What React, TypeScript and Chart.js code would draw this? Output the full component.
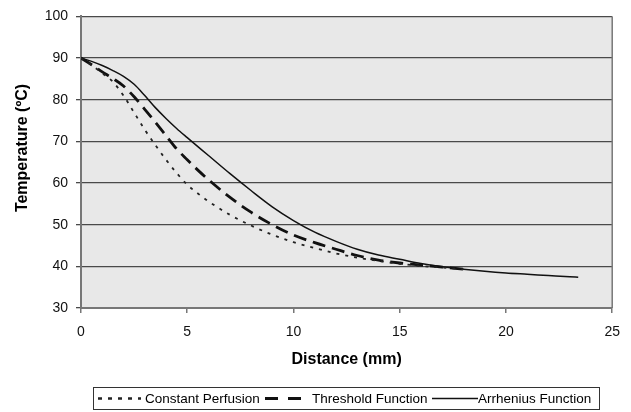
import React, { useEffect, useRef } from "react";
import { Chart, registerables } from "chart.js";

Chart.register(...registerables);

// ---- Data ----
const constantX = [0, 0.5, 1, 1.5, 2, 2.5, 3, 3.5, 4, 4.5, 5, 5.5, 6, 7, 8, 9, 10, 11, 12, 13, 14, 15, 16, 17, 18];
const constantY = [90, 88.3, 86.4, 84.3, 81.0, 76.9, 72.8, 69.1, 65.6, 62.4, 59.6, 57.5, 55.6, 52.4, 49.8, 47.6, 45.8, 44.4, 43.1, 42.1, 41.3, 40.6, 40.1, 39.7, 39.3];

const thresholdX = [0, 0.5, 1, 1.5, 2, 2.5, 3, 3.5, 4, 4.5, 5, 5.5, 6, 7, 8, 9, 10, 11, 12, 13, 14, 15, 16, 17, 18];
const thresholdY = [90, 88.4, 86.7, 85.1, 83.3, 80.7, 77.7, 74.6, 71.4, 68.2, 65.6, 63.1, 60.8, 56.6, 53.0, 50.0, 47.5, 45.7, 44.1, 42.6, 41.5, 40.8, 40.3, 39.8, 39.3];

const arrheniusX = [0, 0.5, 1, 1.5, 2, 2.5, 3, 3.5, 4, 4.5, 5, 6, 7, 8, 9, 10, 11, 12, 13, 14, 15, 16, 17, 18, 19, 20, 21, 22, 23, 23.4];
const arrheniusY = [90, 89.2, 88.2, 87.0, 85.6, 83.7, 81.0, 78.1, 75.5, 73.1, 70.9, 66.6, 62.3, 58.2, 54.3, 51.0, 48.2, 46.0, 44.1, 42.7, 41.7, 40.7, 39.9, 39.3, 38.8, 38.4, 38.1, 37.8, 37.5, 37.4];

const seriesLabels = ["Constant Perfusion", "Threshold Function", "Arrhenius Function"];
const xTicksMin = 0;
const xTicksMax = 25;
const xStep = 5;
const yTicksMin = 30;
const yTicksMax = 100;
const yStep = 10;
const xTitle = "Distance (mm)";
const yTitle = "Temperature (ºC)";

const FONT = "'Liberation Sans', Arial, sans-serif";

const toPts = (xs: number[], ys: number[]) => xs.map((x, i) => ({ x, y: ys[i] }));

const decorPlugin = {
  id: "decor",
  beforeDraw(chart: any) {
    const { ctx, chartArea: a } = chart;
    ctx.save();
    ctx.fillStyle = "#e8e8e8";
    ctx.fillRect(a.left, a.top, a.right - a.left, a.bottom - a.top);
    ctx.restore();
  },
  afterDraw(chart: any) {
    const { ctx, chartArea: a } = chart;
    ctx.save();
    // right border of plot area
    ctx.strokeStyle = "#777";
    ctx.lineWidth = 1.5;
    ctx.beginPath();
    ctx.moveTo(a.right, a.top);
    ctx.lineTo(a.right, a.bottom);
    ctx.stroke();

    // axis titles
    ctx.fillStyle = "#000";
    ctx.font = `bold 16px ${FONT}`;
    ctx.textAlign = "center";
    ctx.textBaseline = "middle";
    ctx.fillText(xTitle, (a.left + a.right) / 2, 360);
    ctx.save();
    ctx.translate(23, 148);
    ctx.rotate(-Math.PI / 2);
    ctx.fillText(yTitle, 0, 0);
    ctx.restore();

    // legend
    const top = 387.5;
    const h = 22;
    const cy = top + h / 2;
    ctx.strokeStyle = "#333";
    ctx.lineWidth = 1;
    ctx.strokeRect(93.5, top, 506, h);
    ctx.font = `13.5px ${FONT}`;
    ctx.textAlign = "left";
    ctx.fillStyle = "#000";
    const items = chart.data.datasets.map((ds: any, i: number) => ({ ds, label: seriesLabels[i] }));
    const samples = [
      { x0: 98, x1: 141, tx: 145 },
      { x0: 265, x1: 303, tx: 312 },
      { x0: 432, x1: 478, tx: 478 },
    ];
    items.forEach((it: any, i: number) => {
      const s = samples[i];
      ctx.save();
      ctx.strokeStyle = it.ds.borderColor;
      ctx.lineWidth = i === 1 ? 3 : i === 0 ? 2.5 : 1.5;
      ctx.setLineDash(i === 0 ? [4, 6] : i === 1 ? [13, 10] : []);
      ctx.beginPath();
      ctx.moveTo(s.x0, cy);
      ctx.lineTo(s.x1, cy);
      ctx.stroke();
      ctx.restore();
      ctx.fillText(it.label, s.tx, cy + 0.5);
    });
    ctx.restore();
  },
};

export default function App() {
  const ref = useRef<HTMLCanvasElement>(null);
  useEffect(() => {
    document.body.style.margin = "0";
    const canvas = ref.current!;
    const chart = new Chart(canvas, {
      type: "line",
      data: {
        datasets: [
          {
            label: seriesLabels[0],
            data: toPts(constantX, constantY),
            borderColor: "#222",
            borderWidth: 1.8,
            borderDash: [3, 6],
            pointRadius: 0,
            cubicInterpolationMode: "monotone",
          },
          {
            label: seriesLabels[1],
            data: toPts(thresholdX, thresholdY),
            borderColor: "#111",
            borderWidth: 2.8,
            borderDash: [13, 7],
            pointRadius: 0,
            cubicInterpolationMode: "monotone",
          },
          {
            label: seriesLabels[2],
            data: toPts(arrheniusX, arrheniusY),
            borderColor: "#111",
            borderWidth: 1.5,
            pointRadius: 0,
            cubicInterpolationMode: "monotone",
          },
        ],
      },
      options: {
        responsive: false,
        animation: false,
        devicePixelRatio: 1,
        layout: { padding: { left: 0, top: 15, right: 18, bottom: 0 } },
        plugins: {
          legend: { display: false },
          tooltip: { enabled: false },
        },
        scales: {
          x: {
            type: "linear",
            min: xTicksMin,
            max: xTicksMax,
            afterFit: (s: any) => {
              s.height = 104;
            },
            ticks: {
              stepSize: xStep,
              padding: 11,
              color: "#111",
              font: { family: FONT, size: 14 },
              maxRotation: 0,
            },
            grid: {
              drawOnChartArea: false,
              drawTicks: true,
              tickLength: 5,
              color: "#777",
              lineWidth: 1.5,
            },
            border: { display: true, color: "#777", width: 2 },
          },
          y: {
            min: yTicksMin,
            max: yTicksMax,
            afterFit: (s: any) => {
              s.width = 81;
            },
            ticks: {
              stepSize: yStep,
              padding: 8,
              color: "#111",
              font: { family: FONT, size: 14 },
            },
            grid: {
              color: "#4a4a4a",
              lineWidth: 1.3,
              tickLength: 5,
              drawTicks: true,
            },
            border: { display: true, color: "#777", width: 2 },
          },
        },
      },
      plugins: [decorPlugin],
    } as any);
    return () => chart.destroy();
  }, []);
  return (
    <div style={{ width: 631, height: 412, position: "relative" }}>
      <canvas ref={ref} width={631} height={412} style={{ display: "block" }} />
    </div>
  );
}
